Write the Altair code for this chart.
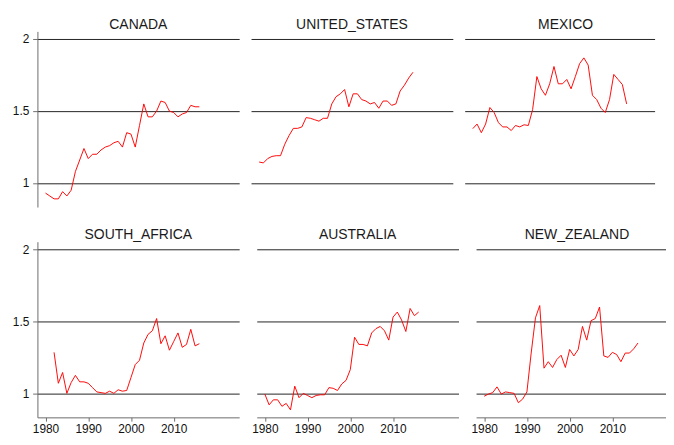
import altair as alt
import pandas as pd

years = list(range(1980, 2017))

countries = ["CANADA", "UNITED_STATES", "MEXICO", "SOUTH_AFRICA", "AUSTRALIA", "NEW_ZEALAND"]

canada = [0.93, 0.91, 0.89, 0.89, 0.94, 0.91, 0.95, 1.08, 1.16, 1.24, 1.17, 1.20, 1.20, 1.23,
          1.25, 1.26, 1.28, 1.29, 1.25, 1.35, 1.34, 1.25, 1.40, 1.55, 1.46, 1.46, 1.50, 1.57,
          1.56, 1.50, 1.49, 1.46, 1.48, 1.49, 1.54, 1.53, 1.53]
united_states = [1.146, 1.14, 1.17, 1.185, 1.19, 1.19, 1.27, 1.33, 1.38, 1.38, 1.39, 1.455, 1.45,
                 1.44, 1.43, 1.45, 1.45, 1.55, 1.60, 1.62, 1.65, 1.53, 1.62, 1.62, 1.58, 1.57,
                 1.55, 1.56, 1.52, 1.57, 1.57, 1.54, 1.55, 1.64, 1.68, 1.73, 1.77]
mexico = [1.378, 1.41, 1.35, 1.41, 1.525, 1.49, 1.42, 1.39, 1.39, 1.365, 1.40, 1.39, 1.405, 1.40,
          1.51, 1.74, 1.655, 1.61, 1.69, 1.81, 1.69, 1.69, 1.72, 1.655, 1.74, 1.83, 1.87, 1.82,
          1.61, 1.58, 1.52, 1.49, 1.58, 1.755, 1.72, 1.685, 1.55]
south_africa = [None, None, 1.285, 1.07, 1.145, 1.00, 1.075, 1.125, 1.08, 1.08, 1.07, 1.04, 1.01,
                1.005, 1.00, 1.015, 1.00, 1.025, 1.015, 1.02, 1.11, 1.20, 1.23, 1.35, 1.41, 1.435,
                1.52, 1.345, 1.40, 1.30, 1.36, 1.42, 1.32, 1.34, 1.445, 1.33, 1.345]
australia = [0.995, 0.92, 0.955, 0.955, 0.91, 0.93, 0.885, 1.05, 0.97, 1.00, 0.985, 0.97, 0.985,
             0.99, 0.99, 1.04, 1.035, 1.02, 1.065, 1.09, 1.165, 1.39, 1.34, 1.34, 1.33, 1.42,
             1.45, 1.465, 1.435, 1.37, 1.53, 1.565, 1.51, 1.43, 1.59, 1.54, 1.565]
new_zealand = [0.98, 0.995, 1.005, 1.045, 0.995, 1.01, 1.005, 1.00, 0.935, 0.96, 1.01, 1.28, 1.525,
               1.61, 1.175, 1.22, 1.18, 1.235, 1.265, 1.18, 1.305, 1.26, 1.305, 1.465, 1.37, 1.505,
               1.52, 1.60, 1.26, 1.25, 1.285, 1.27, 1.22, 1.28, 1.28, 1.31, 1.35]

series = [canada, united_states, mexico, south_africa, australia, new_zealand]

y_ticks = [1, 1.5, 2]
x_ticks = [1980, 1990, 2000, 2010]

rows = []
for name, vals in zip(countries, series):
    for yr, v in zip(years, vals):
        if v is not None:
            rows.append({"country": name, "year": yr, "value": v})
df = pd.DataFrame(rows)

Y_DOMAIN = [0.833, 2.054]
X_FULL = [1978.11, 2025.33]
X_CLIP = [1978.11, 2022.55]
FONT = "Liberation Sans"
PANEL_W = 212.5
PANEL_W_LAST = 200
PANEL_H = 185


def panel(name, col, row):
    left = col == 0
    bottom = row == 1
    width = PANEL_W if col < 2 else PANEL_W_LAST
    xdom = X_FULL if col < 2 else X_CLIP
    yaxis = alt.Axis(values=y_ticks, grid=True, gridColor="#1a1a1a", gridWidth=1,
                     labels=left, ticks=left, domain=left, domainColor="#666666",
                     tickColor="#666666", tickSize=5, labelPadding=4, labelFontSize=12.5,
                     labelFont=FONT, labelColor="#111111", format="~g", title=None)
    if bottom:
        xaxis = alt.Axis(values=x_ticks, grid=False, format="d", domainColor="#666666",
                         tickColor="#666666", tickSize=4, labelPadding=2, labelFontSize=12.5,
                         labelFont=FONT, labelColor="#111111", title=None)
    else:
        xaxis = None
    line = (
        alt.Chart(df[df["country"] == name])
        .mark_line(color="#ff0000", strokeWidth=1, clip=True)
        .encode(
            x=alt.X("year:Q", scale=alt.Scale(domain=xdom, nice=False, zero=False), axis=xaxis),
            y=alt.Y("value:Q", scale=alt.Scale(domain=Y_DOMAIN, nice=False, zero=False), axis=yaxis),
        )
    )
    title = (
        alt.Chart(pd.DataFrame({"t": [name]}))
        .mark_text(font=FONT, fontSize=14.7, color="#1a1a1a", baseline="top", align="center")
        .encode(text="t:N", x=alt.value(PANEL_W / 2), y=alt.value(-14.5))
    )
    return alt.layer(line, title).properties(width=width, height=PANEL_H)


top = alt.hconcat(*[panel(countries[i], i, 0) for i in range(3)], spacing=12)
bot = alt.hconcat(*[panel(countries[3 + i], i, 1) for i in range(3)], spacing=12)

chart = (
    alt.vconcat(top, bot, spacing=21.5)
    .properties(padding={"left": 4, "top": -2, "right": 0, "bottom": 0})
    .configure(background="white", view=alt.ViewConfig(strokeWidth=0))
)

chart.save("out.html", embed_options={"renderer": "svg", "actions": False})
